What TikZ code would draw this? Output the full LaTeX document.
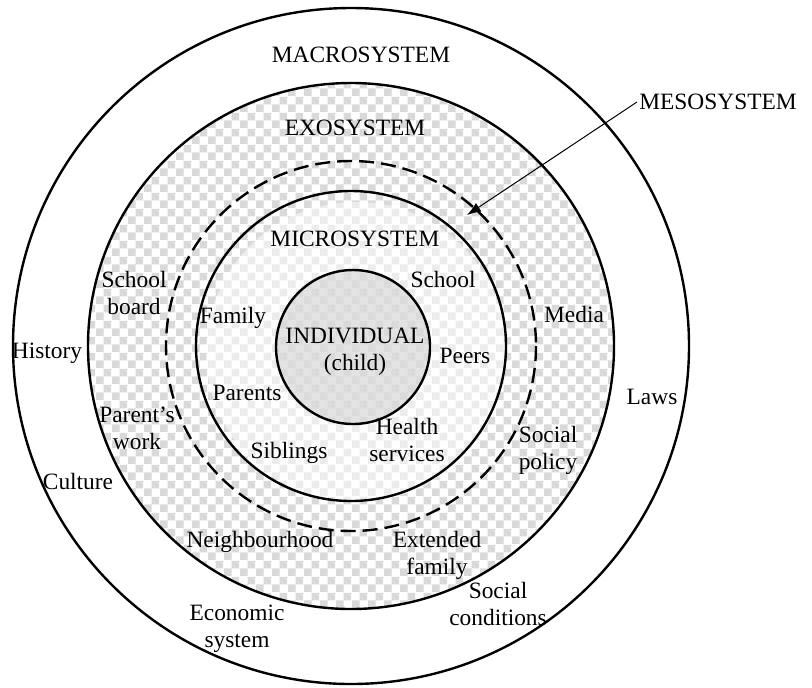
\documentclass[tikz,border=0pt]{standalone}
\usepackage{fontspec}
\setmainfont{Liberation Serif}
\usetikzlibrary{arrows.meta,patterns}

% small grey/white checks for the shaded rings
\pgfdeclarepatternformonly{checkers}{\pgfpointorigin}{\pgfpoint{8pt}{8pt}}{\pgfpoint{8pt}{8pt}}{%
  \pgfpathrectangle{\pgfpointorigin}{\pgfpoint{4pt}{4pt}}%
  \pgfpathrectangle{\pgfpoint{4pt}{4pt}}{\pgfpoint{4pt}{4pt}}%
  \pgfusepath{fill}}

\tikzset{
  ring/.style={line width=1.2pt},
  txt/.style={font=\fontsize{11.7}{13.5}\selectfont, align=center, inner sep=1pt}
}

\begin{document}
\begin{tikzpicture}[x=0.5pt,y=-0.5pt]
        \useasboundingbox (0,0) rectangle (812,687);
        \coordinate (c) at (351,346);

        % Shade the exosystem disc, lighter towards the middle
        \fill[white] (c) circle[radius=263];
        \fill[pattern=checkers, pattern color=black!15] (c) circle[radius=263];
        \fill[white, fill opacity=0.5] (356,352) circle[radius=150];
        \fill[black!20, fill opacity=0.55] (353,347) circle[radius=77];

        % Draw the system rings
        \draw[ring] (c) circle[radius=338];
        \draw[ring] (c) circle[radius=263];
        \draw[ring, dash pattern=on 7.5pt off 3.5pt] (c) circle[radius=185];
        \draw[ring] (c) circle[radius=155];
        \draw[ring] (353,347) circle[radius=77];

        % Ring titles
        \node[txt] (macro) at (361,55) {MACROSYSTEM};
        \node[txt] (exo) at (355,128) {EXOSYSTEM};
        \node[txt] (micro) at (355,239) {MICROSYSTEM};
        \node[txt] (meso) at (718,102) {MESOSYSTEM};
        \node[txt] (child) at (355,352) {INDIVIDUAL\\(child)};

        % Mesosystem pointer
        \coordinate (mesotip) at (467,215);
        \draw[-{Latex[length=7pt,width=5pt]}, line width=0.5pt] (meso.west) -- (mesotip);

        % Microsystem
        \node[txt] (school) at (443,279) {School};
        \node[txt] (family) at (233,318) {Family};
        \node[txt] (peers) at (465,356) {Peers};
        \node[txt] (parents) at (247,393) {Parents};
        \node[txt] (health) at (407,440) {Health\\services};
        \node[txt] (siblings) at (289,453) {Siblings};

        % Exosystem
        \node[txt] (board) at (134,293) {School\\board};
        \node[txt] (media) at (574,314) {Media};
        \node[txt] (work) at (137,428) {Parent’s\\work};
        \node[txt] (policy) at (548,450) {Social\\policy};
        \node[txt] (hood) at (260,542) {Neighbourhood};
        \node[txt] (extended) at (437,555) {Extended\\family};

        % Macrosystem
        \node[txt] (history) at (47,353) {History};
        \node[txt] (laws) at (652,397) {Laws};
        \node[txt] (culture) at (78,481) {Culture};
        \node[txt] (conditions) at (498,604) {Social\\conditions};
        \node[txt] (economic) at (237,629) {Economic\\system};
\end{tikzpicture}
\end{document}
